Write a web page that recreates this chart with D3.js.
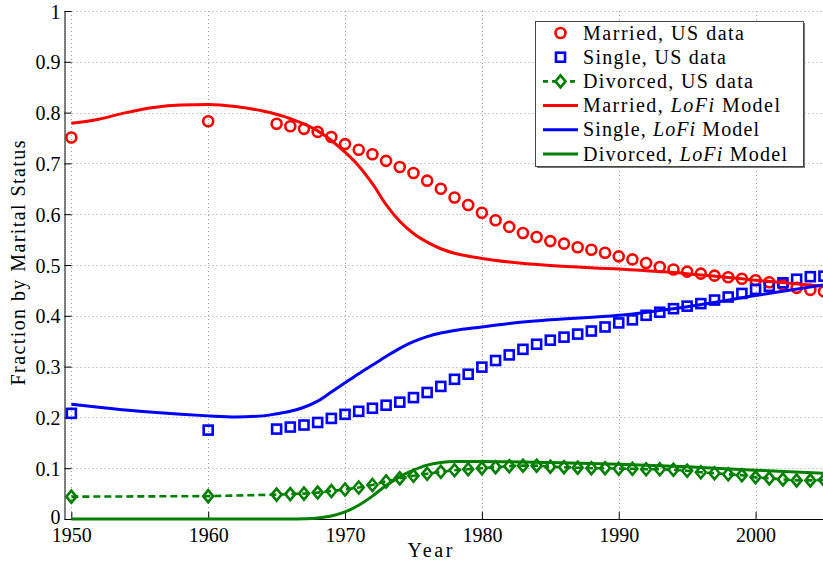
<!DOCTYPE html>
<html><head><meta charset="utf-8">
<script src="https://cdn.jsdelivr.net/npm/d3@7"></script>
<style>
html,body{margin:0;padding:0;background:#fff;overflow:hidden}
svg text{font-family:"Liberation Serif","DejaVu Serif",serif !important;fill:#000}
</style></head>
<body><svg id="chart" width="823" height="563"></svg>
<script>
// ---- data ----
const dataYears = [1950,1960,1965,1966,1967,1968,1969,1970,1971,1972,1973,1974,1975,1976,1977,1978,1979,1980,1981,1982,1983,1984,1985,1986,1987,1988,1989,1990,1991,1992,1993,1994,1995,1996,1997,1998,1999,2000,2001,2002,2003,2004,2005];
const marriedData = [.751,.783,.778,.773,.768,.762,.752,.738,.727,.718,.705,.693,.681,.666,.650,.633,.618,.603,.588,.575,.563,.555,.547,.542,.535,.530,.524,.517,.511,.504,.496,.491,.487,.483,.479,.476,.473,.470,.466,.461,.455,.451,.448];
const singleData = [.208,.175,.177,.181,.185,.190,.198,.206,.212,.218,.224,.230,.239,.249,.261,.275,.285,.299,.312,.323,.334,.344,.352,.358,.364,.370,.378,.386,.392,.401,.407,.414,.419,.424,.431,.437,.444,.452,.458,.465,.472,.477,.478];
const divorcedData = [.044,.045,.048,.049,.050,.052,.055,.058,.062,.067,.074,.080,.085,.089,.093,.096,.098,.100,.102,.104,.105,.105,.103,.102,.101,.100,.100,.099,.099,.098,.098,.097,.095,.092,.090,.088,.086,.082,.080,.078,.076,.076,.077];

const marriedModelYears = [1950,1952,1954,1956,1958,1960,1962,1964,1966,1968,1970,1971,1972,1973,1974,1975,1976,1977,1978,1980,1982,1985,1990,1995,2000,2005];
const marriedModel = [.779,.787,.800,.810,.815,.816,.812,.803,.788,.764,.722,.695,.660,.619,.586,.562,.545,.532,.523,.513,.506,.499,.492,.483,.470,.458];
const singleModelYears = [1950,1952,1955,1958,1960,1962,1964,1965,1966,1967,1968,1969,1970,1971,1972,1973,1974,1975,1976,1977,1978,1980,1982,1985,1990,1995,2000,2005];
const singleModel = [.226,.220,.212,.206,.203,.201,.203,.207,.212,.220,.232,.250,.268,.286,.303,.320,.336,.349,.359,.366,.371,.378,.385,.392,.401,.418,.440,.461];
const divorcedModelYears = [1950,1955,1960,1965,1966,1967,1968,1969,1970,1971,1972,1973,1974,1975,1976,1977,1978,1980,1985,1990,1995,2000,2005];
const divorcedModel = [0,0,0,0,0,.0005,.002,.006,.014,.027,.045,.066,.083,.096,.106,.111,.113,.113,.111,.108,.103,.096,.090];

const xTicks = [1950,1960,1970,1980,1990,2000];
const yTicks = [0,0.1,0.2,0.3,0.4,0.5,0.6,0.7,0.8,0.9,1];
const yTickLabels = ["0","0.1","0.2","0.3","0.4","0.5","0.6","0.7","0.8","0.9","1"];
const legendLabels = [["Married, US data"],["Single, US data"],["Divorced, US data"],["Married, ","LoFi"," Model"],["Single, ","LoFi"," Model"],["Divorced, ","LoFi"," Model"]];

// ---- layout ----
const RED="#ff0000", BLUE="#0000ff", GREEN="#008000";
const FONT = "Liberation Serif, DejaVu Serif, serif";
const svg = d3.select("#chart");
const x = d3.scaleLinear().domain([1949.5,2005]).range([64.5,824]);
const y = d3.scaleLinear().domain([0,1]).range([519,11]);

// grid
const grid = svg.append("g");
grid.selectAll(".gx").data(xTicks).join("line")
  .attr("x1",d=>Math.round(x(d))+0.5).attr("x2",d=>Math.round(x(d))+0.5)
  .attr("y1",y(1)).attr("y2",y(0))
  .attr("stroke","#9a9a9a").attr("stroke-width",1).attr("stroke-dasharray","1,3");
grid.selectAll(".gy").data(yTicks).join("line")
  .attr("x1",x(1949.5)).attr("x2",823)
  .attr("y1",d=>Math.round(y(d))+0.5).attr("y2",d=>Math.round(y(d))+0.5)
  .attr("stroke","#9a9a9a").attr("stroke-width",1).attr("stroke-dasharray","1,3");

// axes
const xAxis = d3.axisBottom(x).tickValues(xTicks).tickSizeInner(-7).tickSizeOuter(0).tickPadding(9).tickFormat(d3.format("d"));
const gx = svg.append("g").attr("transform",`translate(0,${y(0)})`).call(xAxis).attr("font-family",FONT);
gx.select(".domain").attr("stroke","#000");
gx.selectAll(".tick line").attr("stroke","#000");
gx.selectAll("text").attr("font-size",20).attr("fill","#000").attr("dy","0.71em");

const yAxis = d3.axisLeft(y).tickValues(yTicks).tickSizeInner(-7).tickSizeOuter(0).tickPadding(4)
  .tickFormat((d,i)=>yTickLabels[i]);
const gy = svg.append("g").attr("transform",`translate(${x(1949.5)},0)`).call(yAxis).attr("font-family",FONT);
gy.select(".domain").attr("stroke","#000");
gy.selectAll(".tick line").attr("stroke","#000");
gy.selectAll("text").attr("font-size",20).attr("fill","#000").attr("dy",d=>d===0?"0.22em":"0.35em");

// axis labels
svg.append("text").attr("x",430).attr("y",557).attr("text-anchor","middle").attr("font-family",FONT)
  .attr("font-size",20).attr("textLength",45).attr("lengthAdjust","spacing").text("Year");
svg.append("text").attr("transform","translate(25,263) rotate(-90)").attr("text-anchor","middle").attr("font-family",FONT)
  .attr("font-size",20).attr("textLength",245).attr("lengthAdjust","spacing").text("Fraction by Marital Status");

// clip
svg.append("clipPath").attr("id","clip").append("rect").attr("x",0).attr("y",0).attr("width",823).attr("height",563);
const plot = svg.append("g").attr("clip-path","url(#clip)");

const pts = (ys, vs) => ys.map((yr,i)=>[yr,vs[i]]);

// data markers
plot.append("g").selectAll("circle").data(pts(dataYears,marriedData)).join("circle")
  .attr("cx",d=>x(d[0])).attr("cy",d=>y(d[1])).attr("r",5)
  .attr("fill","none").attr("stroke",RED).attr("stroke-width",2.6);
plot.append("g").selectAll("rect").data(pts(dataYears,singleData)).join("rect")
  .attr("x",d=>x(d[0])-4.5).attr("y",d=>y(d[1])-4.5).attr("width",9).attr("height",9)
  .attr("fill","none").attr("stroke",BLUE).attr("stroke-width",2.6);
const line = d3.line().x(d=>x(d[0])).y(d=>y(d[1]));
plot.append("path").datum(pts(dataYears,divorcedData)).attr("d",line)
  .attr("fill","none").attr("stroke",GREEN).attr("stroke-width",2.6).attr("stroke-dasharray","7,4");
const diamond = (cx,cy)=>`M${cx},${cy-6}L${cx+5},${cy}L${cx},${cy+6}L${cx-5},${cy}Z`;
plot.append("g").selectAll("path").data(pts(dataYears,divorcedData)).join("path")
  .attr("d",d=>diamond(x(d[0]),y(d[1])))
  .attr("fill","none").attr("stroke",GREEN).attr("stroke-width",2.6);

// model lines
const smooth = d3.line().x(d=>x(d[0])).y(d=>y(d[1])).curve(d3.curveMonotoneX);
[[marriedModelYears,marriedModel,RED],[singleModelYears,singleModel,BLUE],[divorcedModelYears,divorcedModel,GREEN]]
  .forEach(([ys,vs,c])=>{
    plot.append("path").datum(pts(ys,vs)).attr("d",smooth)
      .attr("fill","none").attr("stroke",c).attr("stroke-width",3).attr("stroke-linejoin","round");
  });

// legend
const lg = svg.append("g");
lg.append("rect").attr("x",537).attr("y",23).attr("width",268).attr("height",145).attr("fill","#777");
lg.append("rect").attr("x",535.5).attr("y",21.5).attr("width",268).attr("height",145)
  .attr("fill","#fff").attr("stroke","#444").attr("stroke-width",1);
const rowY = i => 33 + i*24.2;
const lx1 = 543, lx2 = 578, lmid = 560.5;
lg.append("circle").attr("cx",lmid).attr("cy",rowY(0)).attr("r",5).attr("fill","none").attr("stroke",RED).attr("stroke-width",2.6);
lg.append("rect").attr("x",lmid-4.5).attr("y",rowY(1)-4.5).attr("width",9).attr("height",9).attr("fill","none").attr("stroke",BLUE).attr("stroke-width",2.6);
lg.append("line").attr("x1",lx1).attr("x2",lx2).attr("y1",rowY(2)).attr("y2",rowY(2)).attr("stroke",GREEN).attr("stroke-width",2.6).attr("stroke-dasharray","5,4");
lg.append("path").attr("d",diamond(lmid,rowY(2))).attr("fill","#fff").attr("stroke",GREEN).attr("stroke-width",2.6);
[RED,BLUE,GREEN].forEach((c,i)=>{
  lg.append("line").attr("x1",lx1).attr("x2",lx2).attr("y1",rowY(3+i)).attr("y2",rowY(3+i)).attr("stroke",c).attr("stroke-width",3);
});
const legendWidths = [161,143,170,197,176,204];
legendLabels.forEach((parts,i)=>{
  const t = lg.append("text").attr("x",583).attr("y",rowY(i)+6.5).attr("font-size",20).attr("font-family",FONT)
    .attr("textLength",legendWidths[i]).attr("lengthAdjust","spacing");
  parts.forEach((p,j)=>{
    t.append("tspan").attr("font-style", j===1 ? "italic" : "normal").text(p);
  });
});
</script>
</body></html>
